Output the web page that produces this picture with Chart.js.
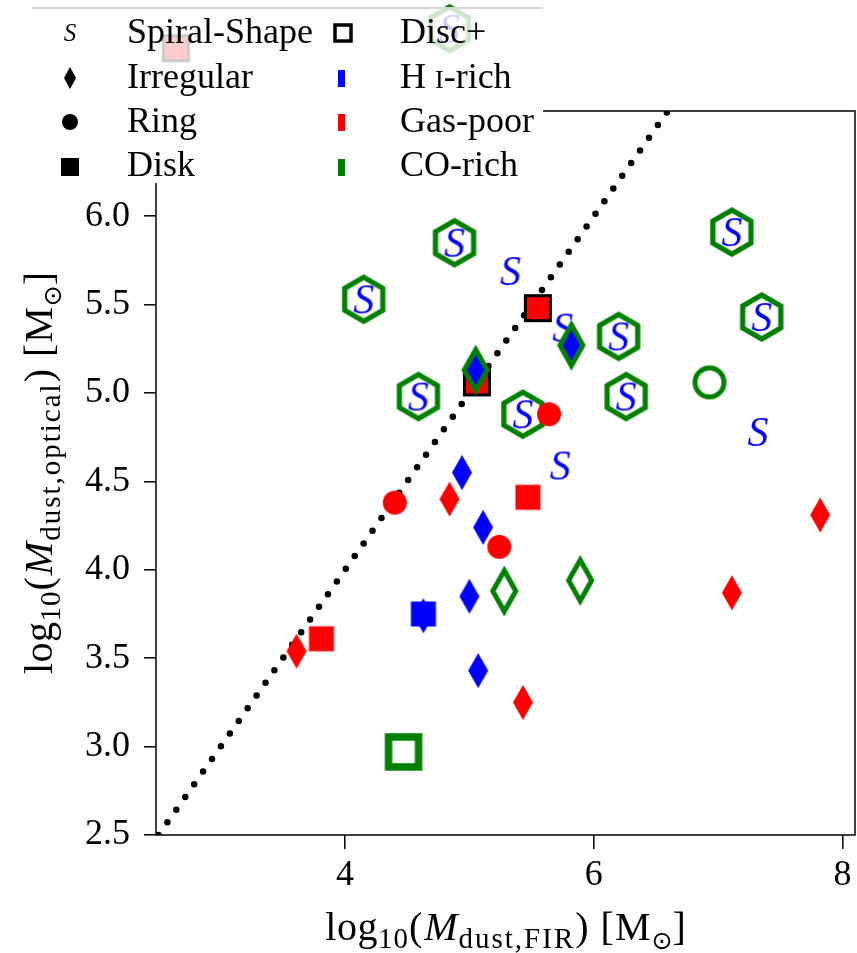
<!DOCTYPE html>
<html><head><meta charset="utf-8">
<script src="https://cdn.jsdelivr.net/npm/chart.js@4"></script>
<style>html,body{margin:0;padding:0;background:#fff;}canvas{display:block;}</style>
</head><body>
<canvas id="c" width="857" height="953"></canvas>
<script>
// ---------------- data ----------------
const xTicks = [4, 6, 8];
const yTicks = [2.5, 3.0, 3.5, 4.0, 4.5, 5.0, 5.5, 6.0];
const xRange = [2.48, 8.1];
const yRange = [2.5, 6.595];
const oneToOneX = [2.5, 6.7];
const oneToOneY = [2.5, 6.7];

// Spiral-Shape (blue S)
const spiralX = [4.88, 4.15, 4.59, 5.43, 6.20, 6.26, 7.11, 7.35, 4.84, 5.33, 5.75, 5.73, 7.32];
const spiralY = [5.85, 5.53, 4.98, 4.88, 5.32, 4.98, 5.91, 5.43, 7.06, 5.69, 5.37, 4.59, 4.78];
// CO-rich spirals (green hexagon)
const coSpiralX = [4.88, 4.15, 4.59, 5.43, 6.20, 6.26, 7.11, 7.35, 4.84];
const coSpiralY = [5.85, 5.53, 4.98, 4.88, 5.32, 4.98, 5.91, 5.43, 7.06];
// Irregular
const irrHIX = [5.05, 5.82, 4.94, 5.11, 5.00, 4.63, 5.07];
const irrHIY = [5.13, 5.27, 4.55, 4.24, 3.85, 3.74, 3.43];
const irrCOX = [5.05, 5.82, 5.28, 5.89];
const irrCOY = [5.13, 5.27, 3.88, 3.94];
const irrGPX = [4.84, 3.61, 5.43, 7.82, 7.11];
const irrGPY = [4.40, 3.54, 3.25, 4.31, 3.87];
// Ring
const ringGPX = [5.64, 4.40, 5.24];
const ringGPY = [4.88, 4.38, 4.13];
const ringCOX = [6.93];
const ringCOY = [5.06];
// Disk
const diskGPX = [5.55, 5.06, 5.47, 3.81, 2.64];
const diskGPY = [5.48, 5.06, 4.41, 3.61, 6.95];
const discPlusX = [5.55, 5.06, 2.64];
const discPlusY = [5.48, 5.06, 6.95];
const diskHIX = [4.63];
const diskHIY = [3.75];
const diskCOX = [4.47];
const diskCOY = [2.97];

// legend
const legendCol1 = ['Spiral-Shape', 'Irregular', 'Ring', 'Disk'];
const legendCol2 = ['Disc+', 'H I-rich', 'Gas-poor', 'CO-rich'];

// ---------------- styles ----------------
const GREEN = '#008000', BLUE = '#0000ff', RED = '#ff0000', BLACK = '#000000';
const SERIF = '"Liberation Serif", "Times New Roman", serif';

function mk(w, h, fn) {
  const c = document.createElement('canvas');
  c.width = w; c.height = h;
  const g = c.getContext('2d');
  g.translate(w / 2, h / 2);
  fn(g);
  return c;
}
function diamond(g, hw, hh) { g.beginPath(); g.moveTo(0, -hh); g.lineTo(hw, 0); g.lineTo(0, hh); g.lineTo(-hw, 0); g.closePath(); }

const sMark = mk(46, 52, g => { g.fillStyle = BLUE; g.font = 'italic 42px ' + SERIF; g.textAlign = 'center'; g.textBaseline = 'alphabetic'; g.fillText('S', 0, 14); });
const hexMark = mk(58, 60, g => { g.strokeStyle = GREEN; g.lineWidth = 5.2; g.beginPath(); for (let i = 0; i < 6; i++) { const a = -Math.PI / 2 + i * Math.PI / 3; g.lineTo(22 * Math.cos(a), 22 * Math.sin(a)); } g.closePath(); g.stroke(); });
const blueDia = mk(26, 40, g => { g.fillStyle = BLUE; diamond(g, 10, 17.5); g.fill(); });
const redDia = mk(26, 40, g => { g.fillStyle = RED; diamond(g, 10, 17.5); g.fill(); });
const greenDia = mk(36, 56, g => { g.strokeStyle = GREEN; g.lineWidth = 5; diamond(g, 11.5, 20.5); g.stroke(); });
const redCirc = mk(28, 28, g => { g.fillStyle = RED; g.beginPath(); g.arc(0, 0, 12, 0, 2 * Math.PI); g.fill(); });
const greenCirc = mk(42, 42, g => { g.strokeStyle = GREEN; g.lineWidth = 5; g.beginPath(); g.arc(0, 0, 14.5, 0, 2 * Math.PI); g.stroke(); });
const redSq = mk(28, 28, g => { g.fillStyle = RED; g.fillRect(-12.5, -12.5, 25, 25); });
const blueSq = mk(28, 28, g => { g.fillStyle = BLUE; g.fillRect(-12.5, -12.5, 25, 25); });
const blackEdgeSq = mk(32, 32, g => { g.strokeStyle = BLACK; g.lineWidth = 3; g.strokeRect(-12.5, -12.5, 25, 25); });
const greenSq = mk(44, 44, g => { g.strokeStyle = GREEN; g.lineWidth = 7.5; g.strokeRect(-15, -15, 30, 30); });

function pts(xs, ys) { return xs.map((x, i) => ({ x: x, y: ys[i] })); }

const layers = [ // bottom to top
  { label: '1:1', type: 'line', data: pts(oneToOneX, oneToOneY), borderColor: BLACK, borderWidth: 6.5, borderDash: [0, 15.5], borderCapStyle: 'round', pointRadius: 0, showLine: true, fill: false },
  { label: 'CO-rich spiral', data: pts(coSpiralX, coSpiralY), pointStyle: hexMark },
  { label: 'Spiral-Shape', data: pts(spiralX, spiralY), pointStyle: sMark },
  { label: 'Disk gas-poor', data: pts(diskGPX, diskGPY), pointStyle: redSq },
  { label: 'Disc+', data: pts(discPlusX, discPlusY), pointStyle: blackEdgeSq },
  { label: 'Irregular HI-rich', data: pts(irrHIX, irrHIY), pointStyle: blueDia },
  { label: 'Irregular CO-rich', data: pts(irrCOX, irrCOY), pointStyle: greenDia },
  { label: 'Irregular gas-poor', data: pts(irrGPX, irrGPY), pointStyle: redDia },
  { label: 'Ring gas-poor', data: pts(ringGPX, ringGPY), pointStyle: redCirc },
  { label: 'Ring CO-rich', data: pts(ringCOX, ringCOY), pointStyle: greenCirc },
  { label: 'Disk HI-rich', data: pts(diskHIX, diskHIY), pointStyle: blueSq },
  { label: 'Disk CO-rich', data: pts(diskCOX, diskCOY), pointStyle: greenSq }
];
const datasets = layers.map((d, i) => {
  const o = Object.assign({ order: layers.length - i, clip: false }, d);
  if (!d.type) { o.pointRadius = 100; o.pointHoverRadius = 100; o.showLine = false; }
  if (d.type === 'line') o.clip = undefined;
  return o;
});

// ---------------- rich text helpers ----------------
const R = s => s + 'px ' + SERIF;
const I = s => 'italic ' + s + 'px ' + SERIF;
function richWidth(ctx, segs) { let w = 0; for (const s of segs) { ctx.font = s.f; ctx.letterSpacing = s.ls || '0px'; w += ctx.measureText(s.t).width; } return w; }
function drawRich(ctx, segs, x, y) { for (const s of segs) { ctx.font = s.f; ctx.letterSpacing = s.ls || '0px'; ctx.fillText(s.t, x, y + (s.dy || 0)); x += ctx.measureText(s.t).width; } ctx.letterSpacing = '0px'; }
function titleSegs(sub) {
  return [
    { t: 'log', f: R(40), ls: '0.5px' }, { t: '10', f: R(29), dy: 8, ls: '1px' }, { t: '(', f: R(40), ls: '2px' }, { t: 'M', f: I(40), ls: '1px' },
    { t: sub, f: R(29), dy: 8, ls: '2px' }, { t: ')', f: R(40), ls: '1px' }, { t: ' [M', f: R(40), ls: '1px' },
    { t: '⊙', f: '25px "DejaVu Sans"', dy: 9 }, { t: ']', f: R(40) }
  ];
}

const decorPlugin = {
  id: 'decor',
  afterDraw(chart) {
    const ctx = chart.ctx, a = chart.chartArea;
    const LB = { x0: 32, y0: 8, x1: 543, y1: 183 };
    // spines (hidden under legend box)
    ctx.save();
    ctx.beginPath();
    ctx.rect(0, 0, chart.width, chart.height);
    ctx.rect(LB.x0, LB.y0, LB.x1 - LB.x0, LB.y1 - LB.y0);
    ctx.clip('evenodd');
    ctx.strokeStyle = '#111'; ctx.lineWidth = 1.6;
    ctx.strokeRect(a.left, a.top, a.right - a.left, a.bottom - a.top);
    ctx.restore();
    // legend box
    ctx.save();
    ctx.fillStyle = 'rgba(255,255,255,0.8)';
    ctx.fillRect(LB.x0, LB.y0, LB.x1 - LB.x0, LB.y1 - LB.y0);
    ctx.strokeStyle = '#d8d8d8'; ctx.lineWidth = 2;
    ctx.beginPath(); ctx.moveTo(LB.x0, LB.y0); ctx.lineTo(LB.x1, LB.y0); ctx.stroke();
    const rowsC = [33, 78, 122, 167], rowsB = [43, 88, 132, 176];
    ctx.fillStyle = BLACK; ctx.textBaseline = 'alphabetic'; ctx.textAlign = 'left';
    // col1 markers
    ctx.font = 'italic 25px ' + SERIF; ctx.textAlign = 'center'; ctx.fillText('S', 70, rowsC[0] + 8); ctx.textAlign = 'left';
    ctx.save(); ctx.translate(70, rowsC[1]); diamond(ctx, 6, 11); ctx.fill(); ctx.restore();
    ctx.beginPath(); ctx.arc(70, rowsC[2], 8, 0, 2 * Math.PI); ctx.fill();
    ctx.fillRect(61, rowsC[3] - 9, 18, 18);
    // col2 markers
    ctx.strokeStyle = BLACK; ctx.lineWidth = 3.5; ctx.strokeRect(335, rowsC[0] - 8, 16, 16);
    ctx.fillStyle = BLUE; ctx.fillRect(338, rowsC[1] - 8, 7, 17);
    ctx.fillStyle = RED; ctx.fillRect(338, rowsC[2] - 8, 7, 17);
    ctx.fillStyle = GREEN; ctx.fillRect(338, rowsC[3] - 8, 7, 17);
    // texts
    ctx.fillStyle = BLACK;
    ctx.font = R(36);
    legendCol1.forEach((t, i) => ctx.fillText(t, 127, rowsB[i]));
    legendCol2.forEach((t, i) => {
      if (t.startsWith('H I')) {
        drawRich(ctx, [{ t: 'H ', f: R(36) }, { t: 'I', f: R(26) }, { t: t.slice(3), f: R(36) }], 400, rowsB[i]);
      } else { ctx.font = R(36); ctx.fillText(t, 400, rowsB[i]); }
    });
    ctx.restore();
    // axis titles
    ctx.save();
    ctx.fillStyle = BLACK; ctx.textBaseline = 'alphabetic'; ctx.textAlign = 'left';
    const xs = titleSegs('dust,FIR');
    const wx = richWidth(ctx, xs);
    drawRich(ctx, xs, (a.left + a.right) / 2 - wx / 2, 940);
    const ys = titleSegs('dust,optical');
    const wy = richWidth(ctx, ys);
    ctx.translate(52, (a.top + a.bottom) / 2);
    ctx.rotate(-Math.PI / 2);
    drawRich(ctx, ys, -wy / 2, 0);
    ctx.restore();
  }
};

new Chart(document.getElementById('c'), {
  type: 'scatter',
  data: { datasets: datasets },
  options: {
    responsive: false, animation: false, events: [], devicePixelRatio: 1,
    layout: { autoPadding: false, padding: { top: 111, right: 2, left: 0, bottom: 0 } },
    plugins: { legend: { display: false }, tooltip: { enabled: false } },
    scales: {
      x: {
        type: 'linear', min: xRange[0], max: xRange[1],
        afterBuildTicks: s => { s.ticks = xTicks.map(v => ({ value: v })); },
        afterFit: s => { s.height = 118; },
        ticks: { color: BLACK, font: { family: SERIF, size: 36 }, padding: 5, maxRotation: 0, autoSkip: false, callback: v => String(v) },
        grid: { drawOnChartArea: false, drawTicks: true, tickLength: 14, color: '#111', lineWidth: 1.6 },
        border: { display: false }
      },
      y: {
        type: 'linear', min: yRange[0], max: yRange[1],
        afterBuildTicks: s => { s.ticks = yTicks.map(v => ({ value: v })); },
        afterFit: s => { s.width = 156; },
        ticks: { color: BLACK, font: { family: SERIF, size: 36 }, padding: 14, autoSkip: false, callback: v => Number(v).toFixed(1) },
        grid: { drawOnChartArea: false, drawTicks: true, tickLength: 12, color: '#111', lineWidth: 1.6 },
        border: { display: false }
      }
    }
  },
  plugins: [decorPlugin]
});
</script>
</body></html>
